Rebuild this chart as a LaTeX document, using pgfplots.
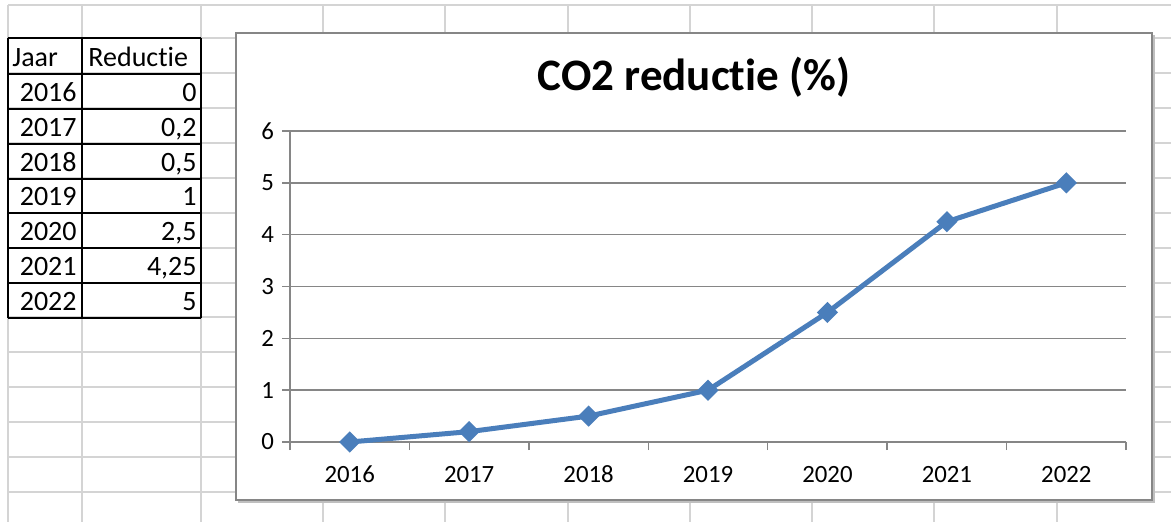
\documentclass[border=0pt]{standalone}
\usepackage{pgfplots}
\pgfplotsset{compat=1.18}
\usepackage{fontspec}
\setmainfont{Carlito}[Ligatures=NoCommon]
\definecolor{sheetgrid}{RGB}{212,212,212}
\definecolor{gridgray}{RGB}{134,134,134}
\definecolor{lineblue}{RGB}{74,126,187}
\begin{document}
\begin{tikzpicture}
\begin{scope}[x=0.5bp,y=-0.5bp,yshift=261bp]
  \path[use as bounding box] (0,0) rectangle (1171,522);
  % spreadsheet grid
  \foreach \xx in {8,82,201,323,445,568,690,812,934,1057}
    \draw[sheetgrid, line width=1bp] (\xx,5) -- (\xx,522);
  \foreach \yy in {5,38.5,73.5,108.5,143.5,178.5,213,248,283,317.5,352.5,387.5,422.5,457.5,492}
    \draw[sheetgrid, line width=1bp] (8,\yy) -- (1171,\yy);
  % table
  \foreach \yy in {38,74,109,144,179,213.5,248,283,318}
    \draw[black, line width=1bp] (8,\yy) -- (201,\yy);
  \foreach \xx in {8,82,201}
    \draw[black, line width=1bp] (\xx,38) -- (\xx,318);
  \begin{scope}[every node/.style={inner sep=0pt, font=\fontsize{14bp}{16bp}\selectfont}]
    \node[anchor=base west] at (12,66.5) {Jaar};
    \node[anchor=base west] at (88,66.5) {Reductie};
    \foreach \yr/\val/\b in {2016/0/101.5, 2017/{0,2}/136.5, 2018/{0,5}/171.5, 2019/1/206, 2020/{2,5}/240.5, 2021/{4,25}/275.5, 2022/5/310.5} {
      \node[anchor=base east] at (77,\b) {\yr};
      \node[anchor=base east] at (197,\b) {\val};
    }
  \end{scope}
  % chart frame
  \draw[black!25, line width=1bp] (239,36) rectangle (1154,502);
  \draw[gridgray, line width=0.75bp, fill=white] (236,33) rectangle (1152,500);
  % title
  \node[anchor=base, inner sep=0pt, font=\fontsize{22.5bp}{26bp}\selectfont\bfseries] at (694,91) {CO2 reductie (\%)};
\end{scope}
\begin{axis}[
  at={(145bp,40bp)}, anchor=south west, scale only axis,
  width=418bp, height=155.5bp,
  xmin=-0.5, xmax=6.5, ymin=0, ymax=6,
  axis x line*=bottom, axis y line*=left,
  axis line style={gridgray, line width=0.75bp, -},
  xtick={0,...,6}, xticklabels={2016,2017,2018,2019,2020,2021,2022},
  every major x tick/.style={draw=none},
  minor xtick={-0.5,0.5,1.5,2.5,3.5,4.5,5.5,6.5},
  ytick={0,...,6},
  tick align=outside, major tick length=4bp, minor tick length=4bp,
  tick style={gridgray, line width=0.75bp},
  ymajorgrids, grid style={gridgray, line width=0.75bp},
  tick label style={font=\fontsize{12.4bp}{14bp}\selectfont, text=black},
  xticklabel style={yshift=-4.5bp},
  yticklabel style={xshift=-0.5bp},
  /pgf/number format/assume math mode=true,
  clip=false,
]
\addplot[color=lineblue, line width=2.5bp, mark=square*, mark size=2.5bp, mark options={rotate=45, solid}] coordinates {(0,0) (1,0.2) (2,0.5) (3,1) (4,2.5) (5,4.25) (6,5)};
\end{axis}
\end{tikzpicture}
\end{document}
